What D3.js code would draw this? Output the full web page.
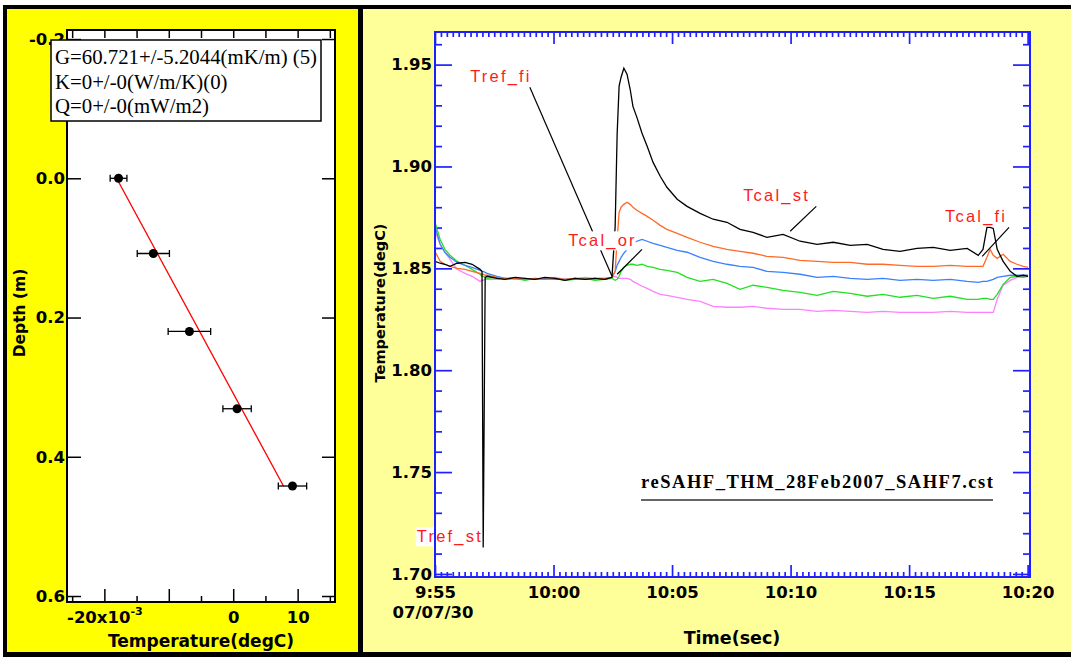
<!DOCTYPE html>
<html>
<head>
<meta charset="utf-8">
<script src="https://cdn.jsdelivr.net/npm/d3@7"></script>
<style>
  body { margin: 0; background: #fff; }
  .tick text { font-family: "DejaVu Sans", sans-serif; font-weight: bold; font-size: 16.5px; fill: #000; }
  .title { font-family: "DejaVu Sans", sans-serif; font-weight: bold; fill: #000; }
</style>
</head>
<body>
<div id="chart"></div>
<script>
// Depth profile data (left panel)
//=====================================================================
var depth = [0.0, 0.108, 0.220, 0.331, 0.442];
var depthTemp = [-0.0178, -0.0124, -0.0068, 0.0006, 0.0092];
var depthErr = [0.0013, 0.0025, 0.0033, 0.0022, 0.0022];
var fitDepth = [0.0, 0.442];
var fitTemp = [-0.0181, 0.0078];
var fitText = ["G=60.721+/-5.2044(mK/m) (5)", "K=0+/-0(W/m/K)(0)", "Q=0+/-0(mW/m2)"];
var depthTicks = [-0.2, 0.0, 0.2, 0.4, 0.6];
var tempMajor = [-0.02, -0.01, 0, 0.01];
var tempMinor = [-0.025, -0.015, -0.005, 0.005, 0.015];

// Time series data (right panel)
//=====================================================================
var timeLabels = [
  "09:55:00", "09:55:13", "09:55:25", "09:55:38", "09:55:56", "09:56:16", "09:56:34", "09:56:54", "09:56:59", "09:57:02", "09:57:07", "09:57:12",
  "09:57:37", "09:57:57", "09:58:23", "09:58:48", "09:59:13", "09:59:38", "10:00:04", "10:00:29", "10:00:54", "10:01:20", "10:01:45", "10:02:10", "10:02:28",
  "10:02:36", "10:02:41", "10:02:46", "10:02:51", "10:02:58", "10:03:06", "10:03:14", "10:03:21", "10:03:31", "10:03:44", "10:03:57", "10:04:12", "10:04:30", "10:04:47", "10:05:13", "10:05:38",
  "10:06:11", "10:06:44", "10:07:19", "10:07:52", "10:08:25", "10:09:00", "10:09:41", "10:10:24", "10:11:07", "10:11:48", "10:12:31", "10:13:14", "10:13:54", "10:14:37", "10:15:20",
  "10:16:01", "10:16:44", "10:17:27", "10:17:55", "10:18:07", "10:18:17", "10:18:25", "10:18:33", "10:18:43", "10:18:58", "10:19:16", "10:19:33", "10:19:49", "10:20:01"
];

var tBlack = [
  1.8534, 1.8525, 1.8520, 1.8510, 1.8525, 1.8529, 1.8520, 1.8495, 1.8485, 1.7130, 1.8456, 1.8461,
  1.8451, 1.8446, 1.8456, 1.8451, 1.8446, 1.8456, 1.8451, 1.8441, 1.8451, 1.8446, 1.8451, 1.8446, 1.8456,
  1.8706, 1.9158, 1.9394, 1.9438, 1.9482, 1.9453, 1.9379, 1.9295, 1.9241, 1.9163, 1.9099, 1.9020, 1.8952, 1.8898, 1.8839, 1.8804,
  1.8770, 1.8741, 1.8726, 1.8691, 1.8677, 1.8652, 1.8667, 1.8633, 1.8618, 1.8628, 1.8613, 1.8618, 1.8593, 1.8583, 1.8598,
  1.8603, 1.8588, 1.8598, 1.8564, 1.8593, 1.8701, 1.8701, 1.8696, 1.8593, 1.8534, 1.8485, 1.8461, 1.8466, 1.8461
];
var tOrange = [
  1.8583, 1.8534, 1.8520, 1.8510, 1.8500, 1.8495, 1.8485, 1.8475, 1.8471, 1.8471, 1.8466, 1.8466,
  1.8456, 1.8451, 1.8451, 1.8446, 1.8451, 1.8446, 1.8451, 1.8446, 1.8451, 1.8446, 1.8451, 1.8451, 1.8456,
  1.8485, 1.8642, 1.8775, 1.8800, 1.8814, 1.8824, 1.8814, 1.8800, 1.8785, 1.8770, 1.8755, 1.8736, 1.8711, 1.8691, 1.8672, 1.8652,
  1.8628, 1.8608, 1.8593, 1.8583, 1.8574, 1.8559, 1.8554, 1.8539, 1.8534, 1.8529, 1.8529, 1.8520, 1.8520, 1.8515, 1.8510,
  1.8510, 1.8515, 1.8510, 1.8510, 1.8510, 1.8554, 1.8593, 1.8564, 1.8549, 1.8569, 1.8534, 1.8520, 1.8510, 1.8505
];
var tBlue = [
  1.8706, 1.8618, 1.8579, 1.8554, 1.8529, 1.8515, 1.8505, 1.8490, 1.8485, 1.8485, 1.8480, 1.8475,
  1.8461, 1.8451, 1.8451, 1.8446, 1.8446, 1.8451, 1.8446, 1.8446, 1.8451, 1.8446, 1.8451, 1.8446, 1.8456,
  1.8485, 1.8515, 1.8534, 1.8554, 1.8574, 1.8593, 1.8608, 1.8623, 1.8633, 1.8642, 1.8633, 1.8623, 1.8613, 1.8603, 1.8588, 1.8579,
  1.8554, 1.8534, 1.8520, 1.8510, 1.8505, 1.8485, 1.8480, 1.8471, 1.8456, 1.8461, 1.8451, 1.8446, 1.8451, 1.8441, 1.8446,
  1.8441, 1.8446, 1.8436, 1.8431, 1.8436, 1.8436, 1.8441, 1.8446, 1.8456, 1.8461, 1.8466, 1.8466, 1.8466, 1.8466
];
var tGreen = [
  1.8726, 1.8642, 1.8593, 1.8564, 1.8534, 1.8515, 1.8495, 1.8471, 1.8461, 1.8461, 1.8456, 1.8451,
  1.8456, 1.8446, 1.8451, 1.8441, 1.8451, 1.8446, 1.8451, 1.8441, 1.8446, 1.8451, 1.8441, 1.8446, 1.8451,
  1.8441, 1.8446, 1.8461, 1.8485, 1.8505, 1.8515, 1.8520, 1.8520, 1.8515, 1.8520, 1.8510, 1.8505, 1.8495, 1.8490, 1.8480, 1.8456,
  1.8436, 1.8446, 1.8426, 1.8397, 1.8417, 1.8407, 1.8392, 1.8382, 1.8367, 1.8387, 1.8377, 1.8363, 1.8372, 1.8358, 1.8367,
  1.8353, 1.8363, 1.8348, 1.8348, 1.8353, 1.8353, 1.8348, 1.8348, 1.8372, 1.8421, 1.8456, 1.8461, 1.8456, 1.8461
];
var tPink = [
  1.8682, 1.8618, 1.8579, 1.8544, 1.8495, 1.8475, 1.8461, 1.8436, 1.8441, 1.8441, 1.8446, 1.8446,
  1.8446, 1.8451, 1.8446, 1.8451, 1.8446, 1.8451, 1.8456, 1.8446, 1.8451, 1.8456, 1.8451, 1.8451, 1.8456,
  1.8461, 1.8456, 1.8451, 1.8451, 1.8451, 1.8451, 1.8446, 1.8436, 1.8426, 1.8412, 1.8402, 1.8387, 1.8372, 1.8367, 1.8358, 1.8348,
  1.8338, 1.8313, 1.8309, 1.8309, 1.8313, 1.8304, 1.8299, 1.8299, 1.8289, 1.8294, 1.8289, 1.8284, 1.8289, 1.8284, 1.8284,
  1.8284, 1.8289, 1.8284, 1.8284, 1.8284, 1.8284, 1.8284, 1.8284, 1.8348, 1.8417, 1.8441, 1.8456, 1.8461, 1.8461
];
var seriesValues = [tPink, tGreen, tBlue, tOrange, tBlack];
var seriesColors = ["#ff80ff", "#22e022", "#3a80ff", "#ff6a26", "#000000"];

// Annotations (label anchor, then leader line from/to)
var annText = ["Tref_fi", "Tcal_or", "Tcal_st", "Tcal_fi", "Tref_st"];
var annTime = ["09:56:29", "10:00:37", "10:08:00", "10:16:31", "09:54:14"];
var annValue = [1.9413, 1.8608, 1.8829, 1.8726, 1.7155];
var leadFromTime = ["09:59:00", "10:03:44", "10:11:05", "10:19:13"];
var leadFromValue = [1.9389, 1.8593, 1.8804, 1.8701];
var leadToTime = ["10:02:28", "10:02:41", "10:09:59", "10:18:05"];
var leadToValue = [1.8461, 1.8471, 1.8682, 1.8559];
var fileName = "reSAHF_THM_28Feb2007_SAHF7.cst";
var dateLabel = "07/07/30";

// SVG and panel backgrounds
//=====================================================================
var svg = d3.select("#chart")
    .append("svg")
    .attr("width", 1071)
    .attr("height", 657);

svg.append("rect").attr("x", 3).attr("y", 5).attr("width", 1068).attr("height", 652).attr("fill", "#000");
svg.append("rect").attr("x", 7).attr("y", 9).attr("width", 351).attr("height", 643).attr("fill", "#ffff00");
svg.append("rect").attr("x", 363).attr("y", 9).attr("width", 708).attr("height", 643).attr("fill", "#ffff99");

// LEFT PANEL: temperature vs depth
//=====================================================================
var xDepth = d3.scaleLinear().domain([-0.0258, 0.0158]).range([67, 335]);
var yDepth = d3.scaleLinear().domain([-0.213, 0.6086]).range([30, 602]);

var left = svg.append("g");
left.append("rect")
    .attr("x", 67).attr("y", 30)
    .attr("width", 268).attr("height", 572)
    .attr("fill", "#fff");

function blackTicks(g) {
    g.select(".domain").remove();
    g.selectAll(".tick line").attr("stroke", "#000").attr("stroke-width", 1.5);
}

left.append("g")
    .attr("transform", "translate(67,0)")
    .call(d3.axisLeft(yDepth).tickValues(depthTicks).tickFormat(d => d.toFixed(1)).tickSize(-14).tickPadding(2))
    .call(blackTicks);

left.append("g")
    .attr("transform", "translate(335,0)")
    .call(d3.axisRight(yDepth).tickValues(depthTicks).tickFormat("").tickSize(-13))
    .call(blackTicks);

var bottomMajor = left.append("g")
    .attr("transform", "translate(0,602)")
    .call(d3.axisBottom(xDepth).tickValues(tempMajor).tickSize(-13).tickPadding(9)
        .tickFormat(d => d === -0.02 ? "-20x10" : d === 0 ? "0" : d === 0.01 ? "10" : ""))
    .call(blackTicks);

bottomMajor.selectAll(".tick text")
    .filter(d => d === -0.02)
    .append("tspan")
    .attr("dy", "-0.7em")
    .attr("font-size", "11px")
    .text("-3");

left.append("g")
    .attr("transform", "translate(0,602)")
    .call(d3.axisBottom(xDepth).tickValues(tempMinor).tickSize(-6).tickFormat(""))
    .call(blackTicks);

left.append("g")
    .attr("transform", "translate(0,30)")
    .call(d3.axisTop(xDepth).tickValues(tempMajor.concat(tempMinor)).tickSize(-8).tickFormat(""))
    .call(blackTicks);

// Fit line
var fitLine = d3.line()
    .x((d, i) => xDepth(fitTemp[i]))
    .y(d => yDepth(d));

left.append("path")
    .datum(fitDepth)
    .attr("d", fitLine)
    .attr("fill", "none")
    .attr("stroke", "#ff0000")
    .attr("stroke-width", 1.3);

// Error bars and points
var errGroup = left.append("g").attr("stroke", "#000").attr("stroke-width", 1.3);
depth.forEach(function (z, i) {
    var y = yDepth(z);
    var x0 = xDepth(depthTemp[i] - depthErr[i]);
    var x1 = xDepth(depthTemp[i] + depthErr[i]);
    errGroup.append("line").attr("x1", x0).attr("x2", x1).attr("y1", y).attr("y2", y);
    errGroup.append("line").attr("x1", x0).attr("x2", x0).attr("y1", y - 3.5).attr("y2", y + 3.5);
    errGroup.append("line").attr("x1", x1).attr("x2", x1).attr("y1", y - 3.5).attr("y2", y + 3.5);
});

left.selectAll("circle")
    .data(depth)
    .enter()
    .append("circle")
    .attr("cx", (d, i) => xDepth(depthTemp[i]))
    .attr("cy", d => yDepth(d))
    .attr("r", 4.5)
    .attr("fill", "#000");

// frame
left.append("rect")
    .attr("x", 67).attr("y", 30)
    .attr("width", 268).attr("height", 572)
    .attr("fill", "none")
    .attr("stroke", "#000")
    .attr("stroke-width", 2);

// Fit result box
left.append("rect")
    .attr("x", 51).attr("y", 40)
    .attr("width", 270).attr("height", 81)
    .attr("fill", "#fff")
    .attr("stroke", "#000")
    .attr("stroke-width", 1.5);

left.selectAll(".fit-text")
    .data(fitText)
    .enter()
    .append("text")
    .attr("x", 55)
    .attr("y", (d, i) => 64 + i * 24.5)
    .attr("font-family", "Liberation Serif, Times New Roman, serif")
    .attr("font-size", "20.8px")
    .attr("fill", "#000")
    .text(d => d);

// axis titles
left.append("text")
    .attr("class", "title")
    .attr("x", 201)
    .attr("y", 647)
    .attr("text-anchor", "middle")
    .attr("font-size", "17px")
    .text("Temperature(degC)");

left.append("text")
    .attr("class", "title")
    .attr("transform", "translate(20,313) rotate(-90)")
    .attr("dy", "0.35em")
    .attr("text-anchor", "middle")
    .attr("font-size", "15.5px")
    .text("Depth (m)");

// RIGHT PANEL: temperature vs time
//=====================================================================
var parseTime = d3.timeParse("%H:%M:%S");
var times = timeLabels.map(parseTime);
var axisBlue = "#2020ff";

var xTime = d3.scaleTime()
    .domain([parseTime("09:55:00"), parseTime("10:20:06")])
    .range([435, 1030]);
var yTemp = d3.scaleLinear()
    .domain([1.6985, 1.966])
    .range([577, 32]);

var right = svg.append("g");
right.append("rect")
    .attr("x", 435).attr("y", 32)
    .attr("width", 595).attr("height", 545)
    .attr("fill", "#fff");

function blueTicks(g) {
    g.select(".domain").remove();
    g.selectAll(".tick line").attr("stroke", axisBlue).attr("stroke-width", 1.7);
}

var tempMajorR = d3.range(170, 196, 5).map(d => d / 100);
var tempMinorR = d3.range(170, 197).filter(d => d % 5 !== 0).map(d => d / 100);
var timeMajor = xTime.ticks(d3.timeMinute.every(5));
var timeMinor = xTime.ticks(d3.timeSecond.every(15)).filter(d => d.getSeconds() !== 0 || d.getMinutes() % 5 !== 0);

right.append("g")
    .attr("transform", "translate(435,0)")
    .call(d3.axisLeft(yTemp).tickValues(tempMajorR).tickFormat(d => d.toFixed(2)).tickSize(-17).tickPadding(3))
    .call(blueTicks);
right.append("g")
    .attr("transform", "translate(435,0)")
    .call(d3.axisLeft(yTemp).tickValues(tempMinorR).tickFormat("").tickSize(-7))
    .call(blueTicks);
right.append("g")
    .attr("transform", "translate(1030,0)")
    .call(d3.axisRight(yTemp).tickValues(tempMajorR).tickFormat("").tickSize(-17))
    .call(blueTicks);
right.append("g")
    .attr("transform", "translate(1030,0)")
    .call(d3.axisRight(yTemp).tickValues(tempMinorR).tickFormat("").tickSize(-7))
    .call(blueTicks);

right.append("g")
    .attr("transform", "translate(0,577)")
    .call(d3.axisBottom(xTime).tickValues(timeMajor).tickFormat(d3.timeFormat("%-H:%M")).tickSize(-12).tickPadding(9))
    .call(blueTicks);
right.append("g")
    .attr("transform", "translate(0,577)")
    .call(d3.axisBottom(xTime).tickValues(timeMinor).tickFormat("").tickSize(-5))
    .call(blueTicks);
right.append("g")
    .attr("transform", "translate(0,32)")
    .call(d3.axisTop(xTime).tickValues(timeMajor).tickFormat("").tickSize(-12))
    .call(blueTicks);
right.append("g")
    .attr("transform", "translate(0,32)")
    .call(d3.axisTop(xTime).tickValues(timeMinor).tickFormat("").tickSize(-5))
    .call(blueTicks);

right.append("text")
    .attr("class", "title")
    .attr("x", xTime(parseTime("09:55:00")) - 2)
    .attr("y", 618)
    .attr("text-anchor", "middle")
    .attr("font-size", "16.5px")
    .text(dateLabel);

// series lines
var clip = svg.append("clipPath").attr("id", "plotClip");
clip.append("rect").attr("x", 435).attr("y", 32).attr("width", 595).attr("height", 545);

var seriesLine = d3.line()
    .x((d, i) => xTime(times[i]))
    .y(d => yTemp(d));

right.append("g")
    .attr("clip-path", "url(#plotClip)")
    .selectAll("path")
    .data(seriesValues)
    .enter()
    .append("path")
    .attr("d", seriesLine)
    .attr("fill", "none")
    .attr("stroke", (d, i) => seriesColors[i])
    .attr("stroke-width", 1.3);

// leader lines
right.append("g")
    .selectAll("line")
    .data(leadFromTime)
    .enter()
    .append("line")
    .attr("x1", d => xTime(parseTime(d)))
    .attr("y1", (d, i) => yTemp(leadFromValue[i]))
    .attr("x2", (d, i) => xTime(parseTime(leadToTime[i])))
    .attr("y2", (d, i) => yTemp(leadToValue[i]))
    .attr("stroke", "#000")
    .attr("stroke-width", 1.2);

// red labels with white background
var labels = right.append("g");
annText.forEach(function (t, i) {
    var g = labels.append("g");
    var txt = g.append("text")
        .attr("x", xTime(parseTime(annTime[i])))
        .attr("y", yTemp(annValue[i]))
        .attr("font-family", "Liberation Sans, Arial, sans-serif")
        .attr("font-size", "16.5px")
        .attr("letter-spacing", "2.2px")
        .attr("fill", "#ff1a1a")
        .text(t);
    var bb = txt.node().getBBox();
    g.insert("rect", "text")
        .attr("x", bb.x - 1)
        .attr("y", bb.y)
        .attr("width", bb.width)
        .attr("height", bb.height)
        .attr("fill", "#fff");
});

// file name caption
right.append("text")
    .attr("x", 641)
    .attr("y", 488)
    .attr("font-family", "Liberation Serif, Times New Roman, serif")
    .attr("font-weight", "bold")
    .attr("font-size", "18.5px")
    .attr("textLength", 352)
    .attr("lengthAdjust", "spacing")
    .attr("fill", "#000")
    .text(fileName);
right.append("line")
    .attr("x1", 641).attr("x2", 993)
    .attr("y1", 500).attr("y2", 500)
    .attr("stroke", "#333")
    .attr("stroke-width", 1.5);

// blue frame
right.append("rect")
    .attr("x", 435).attr("y", 32)
    .attr("width", 595).attr("height", 545)
    .attr("fill", "none")
    .attr("stroke", axisBlue)
    .attr("stroke-width", 2);

// axis titles
right.append("text")
    .attr("class", "title")
    .attr("x", 732)
    .attr("y", 644)
    .attr("text-anchor", "middle")
    .attr("font-size", "17.5px")
    .text("Time(sec)");

right.append("text")
    .attr("class", "title")
    .attr("transform", "translate(380,303) rotate(-90)")
    .attr("dy", "0.35em")
    .attr("text-anchor", "middle")
    .attr("font-size", "14.5px")
    .text("Temperature(degC)");
</script>
</body>
</html>
